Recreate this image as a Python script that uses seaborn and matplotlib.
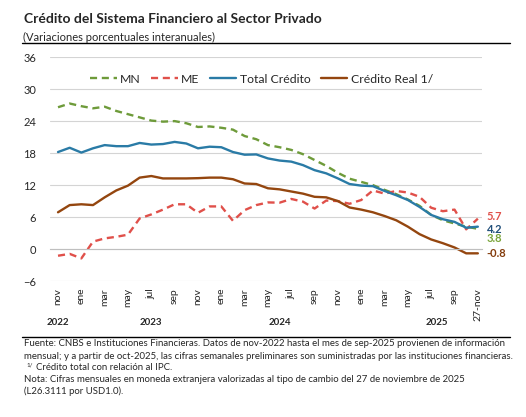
import numpy as np
import pandas as pd
import matplotlib
matplotlib.use("Agg")
import matplotlib.pyplot as plt
from matplotlib.lines import Line2D
import seaborn as sns

# Data (nov-2022 .. sep-2025 monthly, then weekly)
tick_labels = ["nov", "", "ene", "", "mar", "", "may", "", "jul", "", "sep", "",
               "nov", "", "ene", "", "mar", "", "may", "", "jul", "", "sep", "",
               "nov", "", "ene", "", "mar", "", "may", "", "jul", "", "sep", "", "27-nov"]

mn = [26.6, 27.3, 26.8, 26.4, 26.7, 25.9, 25.3, 24.7, 24.1, 23.9, 24.0, 23.6,
      22.9, 23.0, 22.75, 22.4, 21.2, 20.6, 19.5, 19.1, 18.6, 17.8, 16.7, 15.6,
      14.3, 13.2, 12.6, 12.0, 11.1, 10.3, 9.3, 8.1, 6.4, 5.4, 4.8, 4.2, 3.8]
me = [-1.25, -0.9, -1.75, 1.4, 2.0, 2.3, 2.7, 5.75, 6.5, 7.4, 8.4, 8.4,
      6.8, 8.0, 8.0, 5.3, 7.3, 8.25, 8.75, 8.7, 9.4, 8.9, 7.6, 9.1,
      9.0, 8.5, 9.2, 11.0, 10.4, 10.9, 10.6, 9.8, 7.75, 7.1, 7.4, 3.7, 5.7]
total = [18.2, 19.0, 18.1, 18.9, 19.5, 19.3, 19.3, 19.9, 19.6, 19.7, 20.1, 19.8,
         18.9, 19.2, 19.1, 18.2, 17.7, 17.75, 17.0, 16.6, 16.4, 15.75, 14.8, 14.2,
         13.25, 12.2, 11.9, 11.8, 10.9, 10.1, 9.2, 7.9, 6.4, 5.6, 5.1, 4.0, 4.2]
real = [6.9, 8.25, 8.4, 8.25, 9.7, 11.0, 11.9, 13.4, 13.7, 13.25, 13.25, 13.25,
        13.3, 13.4, 13.4, 13.1, 12.3, 12.2, 11.4, 11.2, 10.8, 10.4, 9.8, 9.7,
        9.0, 7.8, 7.4, 6.9, 6.2, 5.4, 4.2, 2.8, 1.8, 1.1, 0.3, -0.8, -0.8]

years = ["2022", "2023", "2024", "2025"]
year_pos = [0, 8, 19, 32.5]

df = pd.DataFrame({"x": np.arange(len(mn)), "MN": mn, "ME": me,
                   "Total Crédito": total, "Crédito Real 1/": real})

sns.set_style("white")
plt.rcParams["font.family"] = ["Lato", "DejaVu Sans"]

fig = plt.figure(figsize = (5.26, 4.17), dpi = 100)
ax = fig.add_axes([0.095, 0.326, 0.821, 0.537])

c_mn = "#6E9B3A"
c_me = "#E0504A"
c_tot = "#2A7BA6"
c_real = "#94460F"

sns.lineplot(data = df, x = "x", y = "MN", ax = ax, color = c_mn, linewidth = 1.7, label = "MN")
sns.lineplot(data = df, x = "x", y = "ME", ax = ax, color = c_me, linewidth = 1.7, label = "ME")
sns.lineplot(data = df, x = "x", y = "Total Crédito", ax = ax, color = c_tot, linewidth = 1.7,
             label = "Total Crédito")
sns.lineplot(data = df, x = "x", y = "Crédito Real 1/", ax = ax, color = c_real, linewidth = 1.7,
             label = "Crédito Real 1/")
ax.lines[0].set_dashes([3, 2])
ax.lines[1].set_dashes([3, 2])

ax.set_ylim(-6, 36)
ax.set_xlim(-0.69, 36.34)
ax.set_yticks(np.arange(-6, 37, 6))
ax.yaxis.grid(True, color = "#D4D4D4", linewidth = 0.8)
ax.set_axisbelow(True)
for s in ["left", "top", "right"]:
    ax.spines[s].set_visible(False)
ax.spines["bottom"].set_position(("data", 0))
ax.spines["bottom"].set_color("#BFBFBF")
ax.spines["bottom"].set_linewidth(0.8)

ax.set_xticks(df["x"])
ax.set_xticklabels(tick_labels, rotation = 90, fontsize = 7.5, va = "top")
ax.tick_params(axis = "x", direction = "in", length = 3, color = "#BFBFBF", pad = 28)
ax.tick_params(axis = "y", length = 0, labelsize = 8, pad = 10)
ax.set_xlabel("")
ax.set_ylabel("")

leg = ax.legend(loc = "upper center", bbox_to_anchor = (0.49, 0.975), ncol = 4, frameon = False,
                fontsize = 8.8, handlelength = 2.2, handletextpad = 0.3, columnspacing = 0.8)

# end-of-series labels
end_vals = [me[-1], total[-1], mn[-1], real[-1]]
end_cols = [c_me, "#1F4E79", "#7AA43A", "#843C0C"]
end_off = [0.5, -0.45, -1.9, 0.05]
for v, c, o in zip(end_vals, end_cols, end_off):
    ax.text(36.75, v + o, f"{v:.1f}", color = c, fontsize = 8, fontweight = "bold", va = "center")

# year labels under the month labels
for yr, xp in zip(years, year_pos):
    ax.text(xp, -0.183, yr, transform = ax.get_xaxis_transform(), ha = "center", va = "center",
            fontsize = 7, fontweight = "bold")

fig.text(0.045, 0.954, "Crédito del Sistema Financiero al Sector Privado", fontsize = 10,
         fontweight = "bold", va = "center")
fig.text(0.043, 0.911, "(Variaciones porcentuales interanuales)", fontsize = 8, va = "center")
fig.add_artist(Line2D([0.042, 0.970], [0.897, 0.897], color = "black", linewidth = 1))
fig.add_artist(Line2D([0.042, 0.970], [0.192, 0.192], color = "black", linewidth = 1))

fn = 6.9
fig.text(0.045, 0.177, "Fuente: CNBS e Instituciones Financieras. Datos de nov-2022 hasta el mes de sep-2025 provienen de información",
         fontsize = fn, va = "center")
fig.text(0.045, 0.146, "mensual; y a partir de oct-2025, las cifras semanales preliminares son suministradas por las instituciones financieras.",
         fontsize = fn, va = "center")
fig.text(0.050, 0.124, "1/", fontsize = 4.5, va = "center")
fig.text(0.068, 0.118, "Crédito total con relación al IPC.", fontsize = fn, va = "center")
fig.text(0.045, 0.089, "Nota: Cifras mensuales en moneda extranjera valorizadas al tipo de cambio del 27 de noviembre de 2025",
         fontsize = fn, va = "center")
fig.text(0.045, 0.062, "(L26.3111 por USD1.0).", fontsize = fn, va = "center")

fig.savefig("out.png", dpi = 100)
